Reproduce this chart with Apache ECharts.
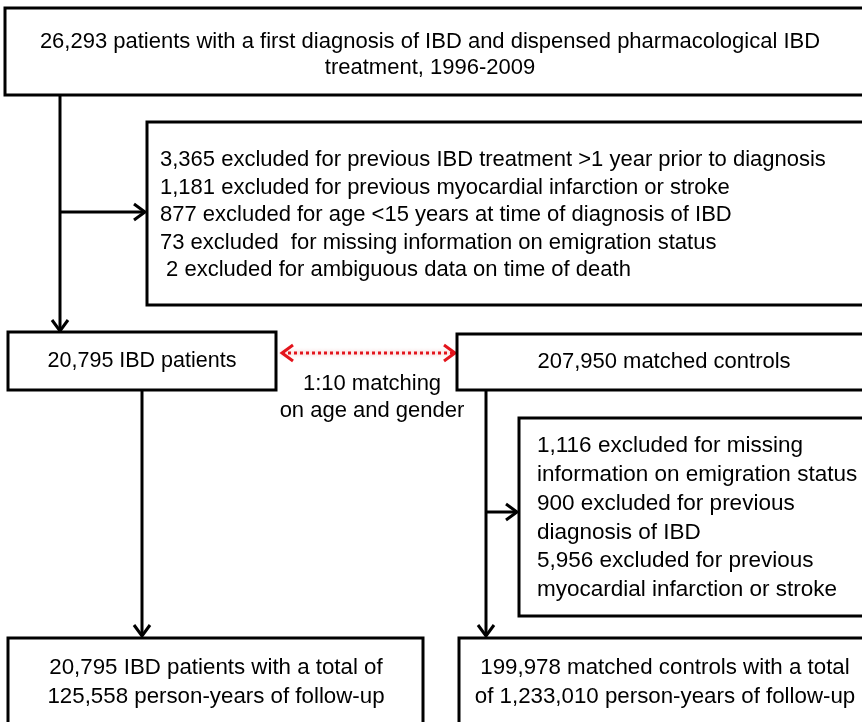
<!DOCTYPE html>
<html>
<head>
<meta charset="utf-8">
<script src="https://cdn.jsdelivr.net/npm/echarts@6/dist/echarts.min.js"></script>
<style>
html, body { margin: 0; padding: 0; background: #fff; }
#chart { width: 862px; height: 722px; }
</style>
</head>
<body>
<div id="chart"></div>
<script>
// box texts of the flow chart
var cohortStart = ['26,293 patients with a first diagnosis of IBD and dispensed pharmacological IBD', 'treatment, 1996-2009'];
var ibdExclusions = [
    '3,365 excluded for previous IBD treatment >1 year prior to diagnosis',
    '1,181 excluded for previous myocardial infarction or stroke',
    '877 excluded for age <15 years at time of diagnosis of IBD',
    '73 excluded  for missing information on emigration status',
    ' 2 excluded for ambiguous data on time of death'
];
var ibdCohort = ['20,795 IBD patients'];
var controlCohort = ['207,950 matched controls'];
var matchingNote = ['1:10 matching', 'on age and gender'];
var controlExclusions = [
    '1,116 excluded for missing',
    'information on emigration status',
    '900 excluded for previous',
    'diagnosis of IBD',
    '5,956 excluded for previous',
    'myocardial infarction or stroke'
];
var ibdFollowUp = ['20,795 IBD patients with a total of', '125,558 person-years of follow-up'];
var controlFollowUp = ['199,978 matched controls with a total', 'of 1,233,010 person-years of follow-up'];

// layout (pixel units of the hidden axes)
var boxes = [
    {lines: cohortStart, rect: [5, 8, 872, 95], align: 'center', tx: 430, ty: 42, lh: 26, size: 22},
    {lines: ibdExclusions, rect: [147, 122, 872, 305], align: 'left', tx: 160, ty: 160, lh: 27.5, size: 22},
    {lines: ibdCohort, rect: [8, 332, 276, 390], align: 'center', tx: 142, ty: 361, lh: 26, size: 21.5},
    {lines: controlCohort, rect: [457, 334, 872, 390], align: 'center', tx: 664, ty: 362, lh: 26, size: 22},
    {lines: controlExclusions, rect: [519, 418, 872, 616], align: 'left', tx: 537, ty: 446, lh: 28.8, size: 22.5},
    {lines: ibdFollowUp, rect: [8, 638, 423, 730], align: 'center', tx: 216, ty: 668, lh: 29, size: 22.3},
    {lines: controlFollowUp, rect: [459, 638, 872, 730], align: 'center', tx: 665, ty: 668, lh: 29, size: 22.3}
];
var notes = [
    {lines: matchingNote, tx: 372, ty: 384, lh: 27, size: 22}
];
var links = [
    {path: [[60, 95], [60, 331]], heads: ['end'], color: '#000'},
    {path: [[60, 212], [145, 212]], heads: ['end'], color: '#000'},
    {path: [[142, 390], [142, 636]], heads: ['end'], color: '#000'},
    {path: [[486, 390], [486, 636]], heads: ['end'], color: '#000'},
    {path: [[486, 512], [517, 512]], heads: ['end'], color: '#000'},
    {path: [[282, 353], [455, 353]], heads: ['start', 'end'], color: '#e3141c', dotted: true}
];

var fontFamily = '"Liberation Sans", "DejaVu Sans", sans-serif';

function textLines(item, api) {
    return item.lines.map(function (t, k) {
        var p = api.coord([item.tx, item.ty + k * item.lh]);
        return {
            type: 'text',
            x: p[0],
            y: p[1],
            style: {
                text: t,
                fill: '#000',
                fontSize: item.size,
                fontFamily: fontFamily,
                align: item.align || 'center',
                verticalAlign: 'middle'
            }
        };
    });
}

function renderBox(params, api) {
    var b = boxes[params.dataIndex];
    var p0 = api.coord([b.rect[0], b.rect[1]]);
    var p1 = api.coord([b.rect[2], b.rect[3]]);
    var children = [{
        type: 'rect',
        shape: {x: p0[0], y: p0[1], width: p1[0] - p0[0], height: p1[1] - p0[1]},
        style: {fill: '#fff', stroke: '#000', lineWidth: 3}
    }];
    return {type: 'group', children: children.concat(textLines(b, api))};
}

function renderNote(params, api) {
    return {type: 'group', children: textLines(notes[params.dataIndex], api)};
}

function chevron(tip, from, color) {
    var dx = tip[0] - from[0], dy = tip[1] - from[1];
    var len = Math.sqrt(dx * dx + dy * dy);
    var ux = dx / len, uy = dy / len;
    var back = 11, half = 8;
    return {
        type: 'polyline',
        shape: {points: [
            [tip[0] - ux * back - uy * half, tip[1] - uy * back + ux * half],
            tip,
            [tip[0] - ux * back + uy * half, tip[1] - uy * back - ux * half]
        ]},
        style: {stroke: color, lineWidth: 3, fill: null, lineJoin: 'miter'}
    };
}

function renderLink(params, api) {
    var l = links[params.dataIndex];
    var pts = l.path.map(function (p) { return api.coord(p); });
    var children = [{
        type: 'polyline',
        shape: {points: pts},
        style: {
            stroke: l.color,
            lineWidth: 3,
            fill: null,
            lineDash: l.dotted ? [3, 3] : null,
            shadowBlur: l.dotted ? 4 : 0,
            shadowColor: 'rgba(200,0,0,0.4)'
        }
    }];
    l.heads.forEach(function (h) {
        if (h === 'end') {
            children.push(chevron(pts[pts.length - 1], pts[pts.length - 2], l.color));
        } else {
            children.push(chevron(pts[0], pts[1], l.color));
        }
    });
    return {type: 'group', children: children};
}

var myChart = echarts.init(document.getElementById('chart'));

myChart.setOption({
    animation: false,
    grid: {left: 0, right: 0, top: 0, bottom: 0},
    xAxis: {type: 'value', min: 0, max: 862, show: false},
    yAxis: {type: 'value', min: 0, max: 722, inverse: true, show: false},
    series: [
        {
            type: 'custom',
            renderItem: renderLink,
            data: links.map(function (l) { return [l.path[0][0], l.path[0][1]]; }),
            silent: true
        },
        {
            type: 'custom',
            renderItem: renderBox,
            data: boxes.map(function (b) { return b.rect; }),
            encode: {x: [0, 2], y: [1, 3]},
            silent: true
        },
        {
            type: 'custom',
            renderItem: renderNote,
            data: notes.map(function (n) { return [n.tx, n.ty]; }),
            silent: true
        }
    ]
});
</script>
</body>
</html>
